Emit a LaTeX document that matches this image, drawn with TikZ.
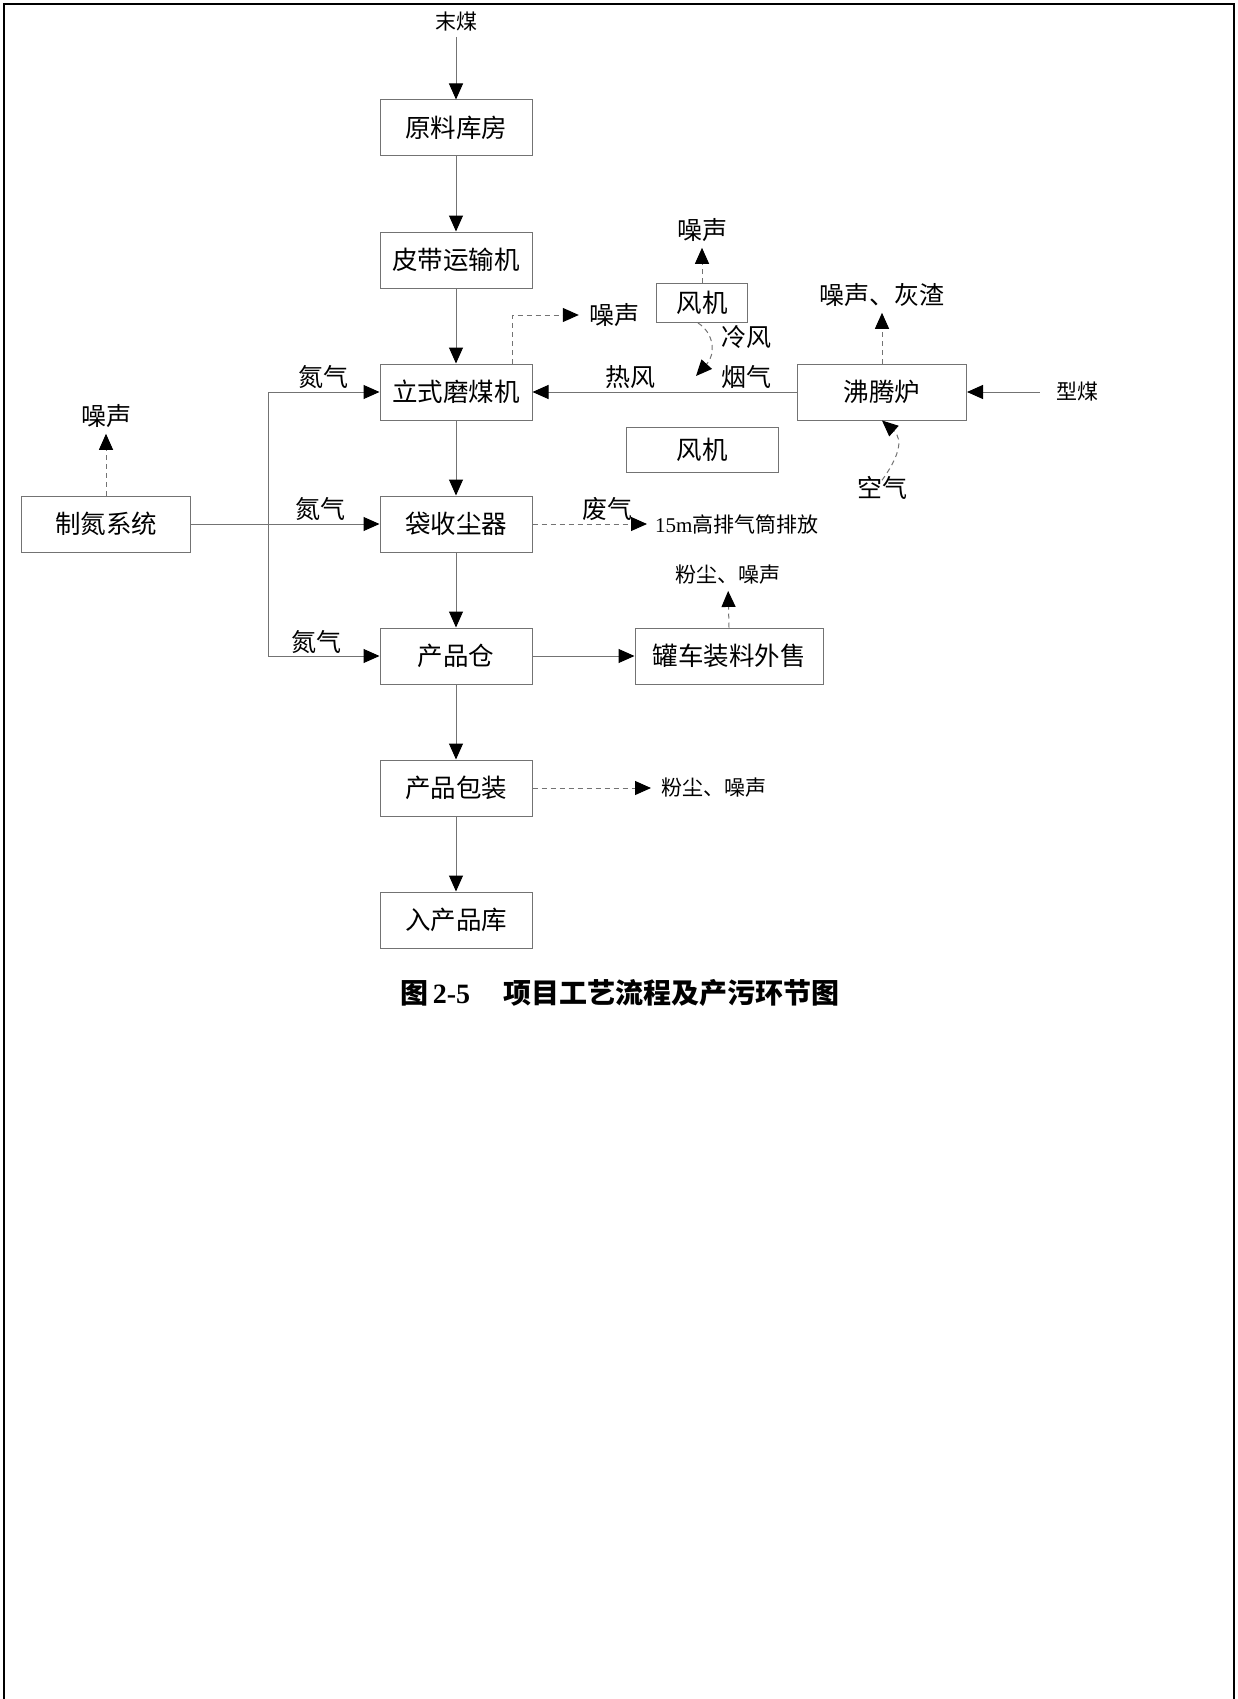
\documentclass[tikz,border=0pt]{standalone}
\usepackage{fontspec}
\setmainfont{Liberation Serif}
\newfontfamily\cjk{Noto Sans CJK SC}
\usetikzlibrary{arrows.meta}
\definecolor{linec}{gray}{0.45}
\tikzset{
  box/.style={draw=linec, line width=1pt, minimum height=56pt, inner sep=0pt, font=\cjk\fontsize{25.5}{30}\selectfont, text=black},
  lbl/.style={inner sep=0pt, font=\cjk\fontsize{25}{30}\selectfont},
  sml/.style={inner sep=0pt, font=\cjk\fontsize{21}{25}\selectfont},
  flow/.style={draw=linec, line width=1pt, -{Triangle[length=16pt,width=14pt,black]}},
  dflow/.style={flow, dash pattern=on 5pt off 4pt},
  plain/.style={draw=linec, line width=1pt},
}
\begin{document}
\begin{tikzpicture}[x=1pt,y=-1pt]
\useasboundingbox (0,0) rectangle (1238,1699);
\draw[line width=2pt] (4,1699) -- (4,4) -- (1234,4) -- (1234,1699);

% main column
\node[sml] (src) at (456,22) {末煤};
\node[box, minimum width=152pt] (raw) at (456,128) {原料库房};
\node[box, minimum width=152pt] (belt) at (456,260) {皮带运输机};
\node[box, minimum width=152pt] (mill) at (456,392) {立式磨煤机};
\node[box, minimum width=152pt] (bag) at (456,524) {袋收尘器};
\node[box, minimum width=152pt] (silo) at (456,656) {产品仓};
\node[box, minimum width=152pt] (pack) at (456,788) {产品包装};
\node[box, minimum width=152pt] (store) at (456,920) {入产品库};

% left
\node[box, minimum width=169pt] (n2) at (106,524) {制氮系统};
\node[lbl] (n2noise) at (106,416) {噪声};
\node[lbl] (nlab1) at (323,377) {氮气};
\node[lbl] (nlab2) at (320,509) {氮气};
\node[lbl] (nlab3) at (316,642) {氮气};
\coordinate (jt) at (268,392);
\coordinate (jb) at (268,656);

% right
\node[lbl] (millnoise) at (614,315) {噪声};
\node[box, minimum width=91pt, minimum height=39pt] (fan1) at (702,303) {风机};
\node[lbl] (fan1noise) at (702,230) {噪声};
\node[lbl] (lf) at (746,337) {冷风};
\node[lbl] (yq) at (746,377) {烟气};
\node[lbl] (rf) at (630,377) {热风};
\node[box, minimum width=152pt, minimum height=45pt] (fan2) at (702,450) {风机};
\node[box, minimum width=169pt] (boil) at (882,392) {沸腾炉};
\node[sml] (coal) at (1077,392) {型煤};
\node[lbl] (ash) at (882,295) {噪声、灰渣};
\node[lbl] (air) at (882,488) {空气};
\node[lbl] (fq) at (607,509) {废气};
\node[sml, anchor=west] (stack) at (655,524) {\rmfamily 15m\cjk 高排气筒排放};
\node[box, minimum width=188pt] (tank) at (729,656) {罐车装料外售};
\node[sml] (tankdust) at (728,575) {粉尘、噪声};
\node[sml, anchor=west] (packdust) at (661,788) {粉尘、噪声};

\node[inner sep=0pt, font=\cjk\bfseries\fontsize{28}{32}\selectfont] (cap) at (620,993) {图\,{\rmfamily\bfseries 2-5}\hspace{1.2em}项目工艺流程及产污环节图};

% connectors main
\draw[flow] ([yshift=-5pt]src.south) -- (raw);
\draw[flow] (raw) -- (belt);
\draw[flow] (belt) -- (mill);
\draw[flow] (mill) -- (bag);
\draw[flow] (bag) -- (silo);
\draw[flow] (silo) -- (pack);
\draw[flow] (pack) -- (store);

% nitrogen
\draw[plain] (jt) -- (jb);
\draw[flow] (n2.east) -- (bag.west);
\draw[flow] (jt) -- (mill.west);
\draw[flow] (jb) -- (silo.west);
\draw[dflow, shorten >=6pt] (n2.north) -- (n2noise.south);

% mill noise
\draw[dflow, shorten >=10pt] ([xshift=56pt]mill.north) |- (millnoise.west);
% fan noise
\draw[dflow, shorten >=6pt] (fan1.north) -- (fan1noise.south);
% hot air
\draw[flow] (boil.west) -- (mill.east);
\draw[flow] ([xshift=-16pt]coal.west) -- (boil.east);
\draw[dflow, shorten >=6pt] (boil.north) -- (ash.south);
% curves
\draw[dflow] ([xshift=-4pt]fan1.south) .. controls (714,333) and (716,354) .. (696,376);
\draw[dflow] ([yshift=-4pt]air.north) .. controls (898,458) and (904,440) .. (boil.south);
% dust collector
\draw[dflow, shorten >=8pt] (bag.east) -- (stack.west);
% silo
\draw[flow] (silo.east) -- (tank.west);
\draw[dflow, shorten >=6pt] (tank.north) -- (tankdust.south);
\draw[dflow, shorten >=10pt] (pack.east) -- (packdust.west);
\end{tikzpicture}
\end{document}
